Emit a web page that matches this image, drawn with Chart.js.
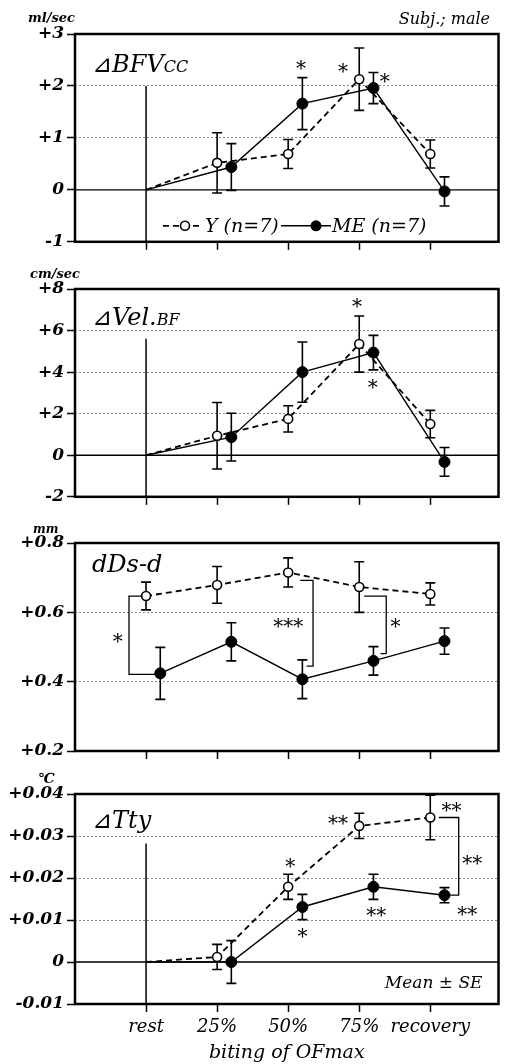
<!DOCTYPE html>
<html>
<head>
<meta charset="utf-8">
<script src="https://cdn.jsdelivr.net/npm/chart.js@4.4.0/dist/chart.umd.min.js"></script>
<style>
html, body { margin: 0; padding: 0; background: #fff; }
#wrap { position: relative; width: 505px; height: 1064px; }
#wrap canvas { position: absolute; left: 0; }
</style>
</head>
<body>
<div id="wrap">
  <canvas id="c1" width="505" height="255" style="top:0"></canvas>
  <canvas id="c2" width="505" height="255" style="top:255px"></canvas>
  <canvas id="c3" width="505" height="255" style="top:510px"></canvas>
  <canvas id="c4" width="505" height="299" style="top:765px"></canvas>
</div>
<script>
const categories = ['rest', '25%', '50%', '75%', 'recovery'];

// dBFVcc, ml/sec
const bfvY = [0, 0.52, 0.69, 2.13, 0.69];
const bfvYErr = [0, 0.58, 0.28, 0.6, 0.27];
const bfvME = [0, 0.44, 1.66, 1.96, -0.03];
const bfvMEErr = [0, 0.45, 0.5, 0.3, 0.28];
const bfvTicks = [-1, 0, 1, 2, 3];
const bfvStars = [[2.18, 2.4, '*'], [2.77, 2.34, '*'], [3.36, 2.15, '*']];

// dVel.BF, cm/sec
const velY = [0, 0.94, 1.75, 5.35, 1.5];
const velYErr = [0, 1.6, 0.63, 1.35, 0.66];
const velME = [0, 0.87, 4.0, 4.94, -0.32];
const velMEErr = [0, 1.15, 1.45, 0.83, 0.69];
const velTicks = [-2, 0, 2, 4, 6, 8];
const velStars = [[2.97, 7.33, '*'], [3.19, 3.44, '*']];

// dDs-d, mm
const ddsY = [0.647, 0.679, 0.715, 0.673, 0.653];
const ddsYErr = [0.04, 0.053, 0.042, 0.073, 0.032];
const ddsME = [0.424, 0.515, 0.407, 0.46, 0.517];
const ddsMEErr = [0.075, 0.055, 0.056, 0.041, 0.038];
const ddsTicks = [0.2, 0.4, 0.6, 0.8];
const ddsStars = [[-0.4, 0.525, '*'], [2.0, 0.568, '***'], [3.51, 0.568, '*']];
const ddsBrackets = [
  {x: -0.24, x1: -0.05, y1: 0.647, x2: 0.14, y2: 0.421},
  {x: 2.35, x1: 2.17, y1: 0.692, x2: 2.26, y2: 0.445},
  {x: 3.38, x1: 3.07, y1: 0.647, x2: 3.3, y2: 0.481}
];

// dTty, deg C
const ttyY = [0, 0.0012, 0.0179, 0.0324, 0.0344];
const ttyYErr = [0, 0.003, 0.003, 0.003, 0.0053];
const ttyME = [0, 0.0, 0.0131, 0.0179, 0.0159];
const ttyMEErr = [0, 0.0051, 0.003, 0.003, 0.0018];
const ttyTicks = [-0.01, 0, 0.01, 0.02, 0.03, 0.04];
const ttyStars = [[2.03, 0.0235, '*'], [2.2, 0.0068, '*'], [2.7, 0.0339, '**'], [3.24, 0.012, '**'],
                  [4.3, 0.037, '**'], [4.59, 0.0243, '**'], [4.52, 0.0122, '**']];
const ttyBrackets = [{x: 4.4, x1: 4.12, y1: 0.0344, x2: 4.28, y2: 0.0159}];

const SERIF = '"DejaVu Serif", "DejaVu Sans", serif';

function fmt(v, d) {
  if (Math.abs(v) < 1e-9) return '0';
  const s = v.toFixed(d);
  return v > 0 ? '+' + s : s;
}

function deco(p) {
  return {
    id: 'deco',
    beforeDatasetsDraw(chart) {
      const {ctx, chartArea: a, scales: {x, y}} = chart;
      ctx.save();
      ctx.strokeStyle = '#000';
      if (p.ticks[0] < 0) {
        const y0 = y.getPixelForValue(0);
        ctx.lineWidth = 1.3;
        ctx.beginPath(); ctx.moveTo(a.left, y0); ctx.lineTo(a.right, y0); ctx.stroke();
      }
      if (p.restTop !== null) {
        const x0 = x.getPixelForValue(0);
        ctx.lineWidth = 1.5;
        ctx.beginPath(); ctx.moveTo(x0, y.getPixelForValue(p.restTop)); ctx.lineTo(x0, a.bottom); ctx.stroke();
      }
      // error bars
      ctx.lineWidth = 1.6;
      chart.data.datasets.forEach(ds => {
        ds.data.forEach((pt, i) => {
          const e = ds.errors[i];
          if (!e) return;
          const px = x.getPixelForValue(pt.x);
          const t = y.getPixelForValue(pt.y + e), b = y.getPixelForValue(pt.y - e);
          ctx.beginPath();
          ctx.moveTo(px, t); ctx.lineTo(px, b);
          ctx.moveTo(px - 5, t); ctx.lineTo(px + 5, t);
          ctx.moveTo(px - 5, b); ctx.lineTo(px + 5, b);
          ctx.stroke();
        });
      });
      ctx.restore();
    },
    afterDatasetsDraw(chart) {
      const {ctx, chartArea: a, scales: {x, y}} = chart;
      ctx.save();
      ctx.fillStyle = '#000';
      ctx.strokeStyle = '#000';

      // brackets
      ctx.lineWidth = 1.3;
      p.brackets.forEach(b => {
        const bx = x.getPixelForValue(b.x);
        ctx.beginPath();
        ctx.moveTo(x.getPixelForValue(b.x1), y.getPixelForValue(b.y1));
        ctx.lineTo(bx, y.getPixelForValue(b.y1));
        ctx.lineTo(bx, y.getPixelForValue(b.y2));
        ctx.lineTo(x.getPixelForValue(b.x2), y.getPixelForValue(b.y2));
        ctx.stroke();
      });

      // significance marks
      ctx.font = '20px ' + SERIF;
      ctx.textAlign = 'center';
      ctx.textBaseline = 'alphabetic';
      p.stars.forEach(([sx, sy, t]) => {
        const m = ctx.measureText(t);
        const py = y.getPixelForValue(sy) + (m.actualBoundingBoxAscent - m.actualBoundingBoxDescent) / 2;
        ctx.fillText(t, x.getPixelForValue(sx), py);
      });

      // panel title
      ctx.textAlign = 'left';
      let tx = a.left + 17;
      p.title.forEach(([t, size]) => {
        ctx.font = 'italic ' + size + 'px ' + SERIF;
        ctx.fillText(t, tx, a.top + p.titleDy);
        tx += ctx.measureText(t).width;
      });

      if (p.legend) {
        const ly = a.bottom - 16;
        const [dsY, dsME] = chart.data.datasets;
        ctx.lineWidth = 1.8;
        ctx.setLineDash([6, 4]);
        ctx.beginPath(); ctx.moveTo(a.left + 88, ly); ctx.lineTo(a.left + 128, ly); ctx.stroke();
        ctx.setLineDash([]);
        ctx.lineWidth = 1.6;
        ctx.fillStyle = '#fff';
        ctx.beginPath(); ctx.arc(a.left + 110, ly, 4.5, 0, Math.PI * 2); ctx.fill(); ctx.stroke();
        ctx.fillStyle = '#000';
        ctx.lineWidth = 1.4;
        ctx.beginPath(); ctx.moveTo(a.left + 206, ly); ctx.lineTo(a.left + 256, ly); ctx.stroke();
        ctx.beginPath(); ctx.arc(a.left + 241, ly, 5.5, 0, Math.PI * 2); ctx.fill();
        ctx.font = 'italic 19px ' + SERIF;
        ctx.textBaseline = 'middle';
        ctx.fillText(dsY.label, a.left + 130, ly + 1);
        ctx.fillText(dsME.label, a.left + 257, ly + 1);
        ctx.textBaseline = 'alphabetic';
      }

      if (p.meanSE) {
        ctx.font = 'italic 17px ' + SERIF;
        ctx.textAlign = 'right';
        ctx.fillText('Mean ± SE', a.right - 16, a.bottom - 16);
      }
      ctx.restore();
    },
    afterDraw(chart) {
      const {ctx, chartArea: a} = chart;
      ctx.save();
      ctx.strokeStyle = '#000';
      ctx.lineWidth = 2.5;
      ctx.strokeRect(a.left, a.top, a.right - a.left, a.bottom - a.top);
      ctx.fillStyle = '#000';
      ctx.textBaseline = 'alphabetic';
      ctx.textAlign = 'left';
      ctx.font = 'italic bold ' + p.unit[3] + 'px ' + SERIF;
      ctx.fillText(p.unit[0], p.unit[1], a.top + p.unit[2]);
      if (p.subj) {
        ctx.font = 'italic 16px ' + SERIF;
        ctx.textAlign = 'right';
        ctx.fillText('Subj.; male', 490, 24);
      }
      ctx.restore();
    }
  };
}

function makePanel(p) {
  const pts = (vals, dx) => vals.map((v, i) => ({x: (p.baseline && i === 0) ? 0 : i + dx, y: v}));
  const radii = r => categories.map((c, i) => (p.baseline && i === 0) ? 0 : r);
  return new Chart(document.getElementById(p.id), {
    type: 'line',
    data: {
      datasets: [
        {
          label: 'Y (n=7)', data: pts(p.yVals, 0), errors: p.yErr,
          borderColor: '#000', borderWidth: 1.8, borderDash: [6, 4],
          pointRadius: radii(4.5), pointBackgroundColor: '#fff', pointBorderColor: '#000', pointBorderWidth: 1.6,
          tension: 0
        },
        {
          label: 'ME (n=7)', data: pts(p.meVals, 0.2), errors: p.meErr,
          borderColor: '#000', borderWidth: 1.4,
          pointRadius: radii(5.5), pointBackgroundColor: '#000', pointBorderColor: '#000', pointBorderWidth: 1,
          tension: 0
        }
      ]
    },
    options: {
      responsive: false,
      animation: false,
      events: [],
      layout: {padding: {top: p.padTop, right: 3, left: 0, bottom: 0}},
      plugins: {legend: {display: false}, tooltip: {enabled: false}},
      scales: {
        x: {
          type: 'linear', min: -1, max: 4.96,
          afterBuildTicks: s => { s.ticks = categories.map((c, i) => ({value: i})); },
          afterFit: s => { s.height = p.xHeight; },
          grid: {drawOnChartArea: false, drawTicks: true, tickLength: 8, tickColor: '#000', tickWidth: 1.5, color: '#000'},
          border: {display: false},
          ticks: {
            display: p.showX, autoSkip: false, maxRotation: 0, padding: 5, color: '#000',
            font: {family: SERIF, size: 18, style: 'italic'},
            callback: v => categories[v]
          },
          title: {
            display: p.showX, text: 'biting of OFmax', color: '#000', padding: {top: 0, bottom: 0},
            font: {family: SERIF, size: 19, style: 'italic'}
          }
        },
        y: {
          min: p.ticks[0], max: p.ticks[p.ticks.length - 1],
          afterBuildTicks: s => { s.ticks = p.ticks.map(v => ({value: v})); },
          afterFit: s => { s.width = 75; },
          grid: {
            color: c => (c.tick && (Math.abs(c.tick.value) < 1e-9 || c.index === 0 || c.index === p.ticks.length - 1)) ? 'rgba(0,0,0,0)' : '#8a8a8a',
            lineWidth: 1, tickColor: '#000', tickLength: 8, tickWidth: 1.5
          },
          border: {display: false, dash: [2, 2]},
          ticks: {
            padding: 3, color: '#000',
            font: {family: SERIF, size: 17, style: 'italic', weight: 'bold'},
            callback: v => fmt(v, p.dec)
          }
        }
      }
    },
    plugins: [deco(p)]
  });
}

makePanel({
  id: 'c1', yVals: bfvY, yErr: bfvYErr, meVals: bfvME, meErr: bfvMEErr, ticks: bfvTicks, dec: 0,
  baseline: true, restTop: 2.0, padTop: 34, xHeight: 11, showX: false,
  title: [['⊿BFV', 24], ['CC', 16]], titleDy: 38, unit: ['ml/sec', 28, -12, 13],
  stars: bfvStars, brackets: [], legend: true, subj: true, meanSE: false
});
makePanel({
  id: 'c2', yVals: velY, yErr: velYErr, meVals: velME, meErr: velMEErr, ticks: velTicks, dec: 0,
  baseline: true, restTop: 5.6, padTop: 34, xHeight: 11, showX: false,
  title: [['⊿Vel.', 24], ['BF', 16]], titleDy: 36, unit: ['cm/sec', 30, -11, 13],
  stars: velStars, brackets: [], legend: false, subj: false, meanSE: false
});
makePanel({
  id: 'c3', yVals: ddsY, yErr: ddsYErr, meVals: ddsME, meErr: ddsMEErr, ticks: ddsTicks, dec: 1,
  baseline: false, restTop: null, padTop: 33, xHeight: 14, showX: false,
  title: [['dDs-d', 24]], titleDy: 29, unit: ['mm', 33, -10, 12],
  stars: ddsStars, brackets: ddsBrackets, legend: false, subj: false, meanSE: false
});
makePanel({
  id: 'c4', yVals: ttyY, yErr: ttyYErr, meVals: ttyME, meErr: ttyMEErr, ticks: ttyTicks, dec: 2,
  baseline: true, restTop: 0.0282, padTop: 29, xHeight: 60, showX: true,
  title: [['⊿Tty', 24]], titleDy: 34, unit: ['℃', 38, -11, 14],
  stars: ttyStars, brackets: ttyBrackets, legend: false, subj: false, meanSE: true
});
</script>
</body>
</html>
